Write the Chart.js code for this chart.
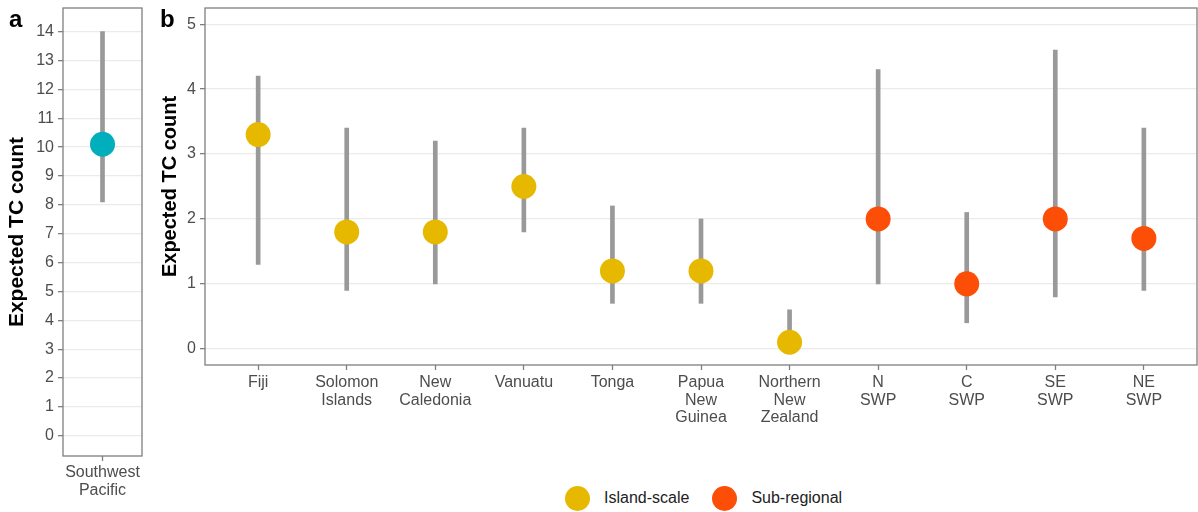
<!DOCTYPE html>
<html lang="en">
<head>
<meta charset="UTF-8">
<title>Expected TC count</title>
<script src="https://cdn.jsdelivr.net/npm/chart.js"></script>
<style>
  body { margin: 0; background: #fff; width: 1198px; height: 512px; position: relative; overflow: hidden;
         font-family: "Liberation Sans", Arial, sans-serif; }
  canvas { position: absolute; top: 0; }
  #chartA { left: 0; width: 150px; height: 512px; }
  #chartB { left: 150px; width: 1048px; height: 440px; }
  .tag { position: absolute; top: 7px; font-weight: bold; font-size: 24px; line-height: 24px; color: #000; }
  #legend { position: absolute; left: 565px; top: 485px; height: 26px; display: flex; align-items: center;
            font-size: 16px; color: #222; }
  #legend .dot { width: 25px; height: 25px; border-radius: 50%; margin-right: 14px; }
  #legend .item { display: flex; align-items: center; margin-right: 23px; }
</style>
</head>
<body>
<canvas id="chartA" width="150" height="512"></canvas>
<canvas id="chartB" width="1048" height="440"></canvas>
<div class="tag" style="left:9px">a</div>
<div class="tag" style="left:160px">b</div>
<div id="legend"></div>

<script>
// panel a: whole basin
const basinLabel = [['Southwest', 'Pacific']];
const basinMean = [10.1];
const basinLow = [8.1];
const basinHigh = [14.0];
const basinTicks = [0, 1, 2, 3, 4, 5, 6, 7, 8, 9, 10, 11, 12, 13, 14];

// panel b: islands and sub-regions
const regionLabels = [
    ['Fiji'], ['Solomon', 'Islands'], ['New', 'Caledonia'], ['Vanuatu'], ['Tonga'],
    ['Papua', 'New', 'Guinea'], ['Northern', 'New', 'Zealand'],
    ['N', 'SWP'], ['C', 'SWP'], ['SE', 'SWP'], ['NE', 'SWP']
];
const regionMean = [3.3, 1.8, 1.8, 2.5, 1.2, 1.2, 0.1, 2.0, 1.0, 2.0, 1.7];
const regionLow  = [1.3, 0.9, 1.0, 1.8, 0.7, 0.7, 0.0, 1.0, 0.4, 0.8, 0.9];
const regionHigh = [4.2, 3.4, 3.2, 3.4, 2.2, 2.0, 0.6, 4.3, 2.1, 4.6, 3.4];
const regionGroup = ['Island-scale', 'Island-scale', 'Island-scale', 'Island-scale', 'Island-scale',
                     'Island-scale', 'Island-scale', 'Sub-regional', 'Sub-regional', 'Sub-regional', 'Sub-regional'];
const regionTicks = [0, 1, 2, 3, 4, 5];

const groupNames = ['Island-scale', 'Sub-regional'];
const groupColors = ['#E7B800', '#FC4E07'];
const basinColor = '#00AFBB';

const FONT = '"Liberation Sans", Arial, sans-serif';
const RANGE_GREY = '#999999';

// grey frame round the plot area
const panelBox = {
    id: 'panelBox',
    afterDraw(chart) {
        const a = chart.chartArea;
        const ctx = chart.ctx;
        ctx.save();
        ctx.strokeStyle = '#7f7f7f';
        ctx.lineWidth = 1.3;
        ctx.strokeRect(a.left, a.top, a.right - a.left, a.bottom - a.top);
        ctx.restore();
    }
};

function makePanel(canvasId, cfg) {
    const n = cfg.labels.length;
    const datasets = [{
        type: 'bar',
        data: cfg.low.map((v, i) => ({ x: i + 1, y: [v, cfg.high[i]] })),
        backgroundColor: RANGE_GREY,
        borderWidth: 0,
        barThickness: 4,
        grouped: false,
        order: 2
    }];
    cfg.groups.forEach(g => {
        datasets.push({
            type: 'scatter',
            label: g.name,
            data: cfg.mean.map((v, i) => ({ x: i + 1, y: v })).filter((p, i) => g.test(i)),
            pointRadius: 12.5,
            pointHoverRadius: 12.5,
            pointBackgroundColor: g.color,
            pointBorderWidth: 0,
            order: 1
        });
    });

    return new Chart(document.getElementById(canvasId), {
        type: 'scatter',
        data: { datasets },
        options: {
            responsive: false,
            animation: false,
            layout: { padding: cfg.padding, autoPadding: false },
            plugins: { legend: { display: false }, tooltip: { enabled: false } },
            scales: {
                x: {
                    type: 'linear',
                    offset: false,
                    min: 0.4,
                    max: n + 0.6,
                    afterBuildTicks: s => { s.ticks = cfg.labels.map((_, i) => ({ value: i + 1 })); },
                    afterFit: s => { s.height = cfg.xHeight; s.paddingLeft = 0; s.paddingRight = 0; },
                    border: { display: false },
                    grid: { offset: false, drawOnChartArea: false, drawTicks: true, tickLength: 5, tickColor: '#7f7f7f', tickWidth: 1.3 },
                    ticks: {
                        autoSkip: false, maxRotation: 0, padding: cfg.xPad,
                        color: '#4d4d4d',
                        font: { family: FONT, size: 16, lineHeight: 1.1 },
                        callback: v => cfg.labels[Math.round(v) - 1]
                    }
                },
                y: {
                    min: cfg.yMin,
                    max: cfg.yMax,
                    afterBuildTicks: s => { s.ticks = cfg.yTicks.map(v => ({ value: v })); },
                    afterFit: s => { s.width = cfg.yWidth; s.paddingTop = 0; s.paddingBottom = 0; },
                    border: { display: false },
                    grid: { color: '#ebebeb', lineWidth: 1.3, tickLength: 5, tickColor: '#7f7f7f', tickWidth: 1.3 },
                    ticks: {
                        padding: 4,
                        color: '#4d4d4d',
                        font: { family: FONT, size: 16 }
                    },
                    title: {
                        display: true,
                        text: 'Expected TC count',
                        color: '#000',
                        font: { family: FONT, size: cfg.titleSize, weight: 'bold', lineHeight: 1.2 },
                        padding: { top: cfg.titlePad, bottom: 0 }
                    }
                }
            }
        },
        plugins: [panelBox]
    });
}

makePanel('chartA', {
    labels: basinLabel, mean: basinMean, low: basinLow, high: basinHigh,
    groups: [{ name: 'Southwest Pacific', color: basinColor, test: () => true }],
    yMin: -0.7, yMax: 14.82, yTicks: basinTicks,
    padding: { top: 8, right: 8, left: 0, bottom: 0 },
    xHeight: 56, yWidth: 63, xPad: 3,
    titleSize: 21, titlePad: 5
});

makePanel('chartB', {
    labels: regionLabels, mean: regionMean, low: regionLow, high: regionHigh,
    groups: groupNames.map((g, k) => ({ name: g, color: groupColors[k], test: i => regionGroup[i] === g })),
    yMin: -0.25, yMax: 5.25, yTicks: regionTicks,
    padding: { top: 8, right: 1, left: 0, bottom: 0 },
    xHeight: 75, yWidth: 55, xPad: 4,
    titleSize: 20, titlePad: 8
});

// legend for panel b
const legendEl = document.getElementById('legend');
groupNames.forEach((g, k) => {
    const item = document.createElement('div');
    item.className = 'item';
    item.innerHTML = '<span class="dot" style="background:' + groupColors[k] + '"></span><span>' + g + '</span>';
    legendEl.appendChild(item);
});
</script>
</body>
</html>
